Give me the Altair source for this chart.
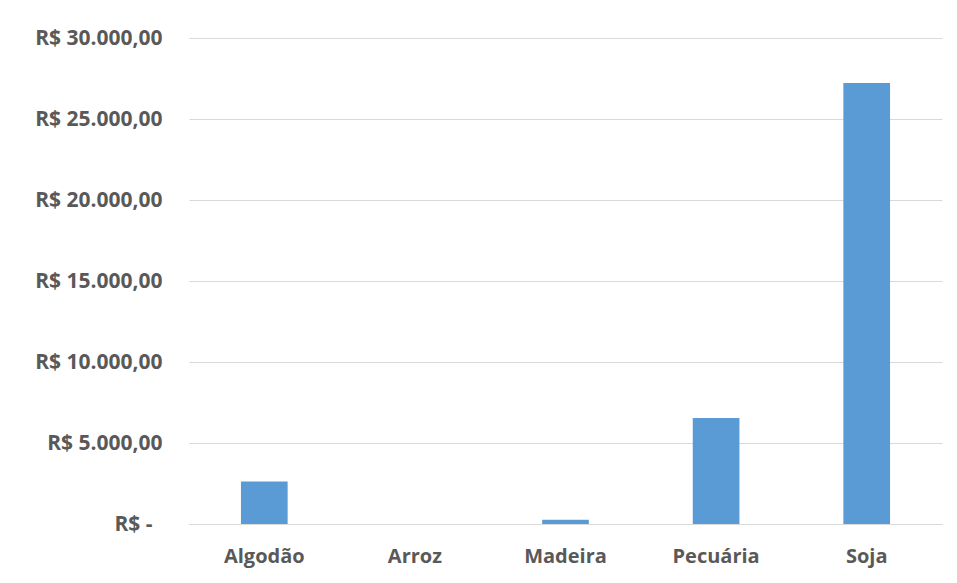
import altair as alt
import pandas as pd

categories = ["Algodão", "Arroz", "Madeira", "Pecuária", "Soja"]
values = [2630, 0, 265, 6545, 27220]
y_ticks = [0, 5000, 10000, 15000, 20000, 25000, 30000]

df = pd.DataFrame({"cat": categories, "val": values})

label_expr = (
    "datum.value == 0 ? 'R$ -' : 'R$ ' + "
    "replace(replace(replace(format(datum.value, ',.2f'), regexp(',', 'g'), '#'), "
    "regexp('\\\\.', 'g'), ','), regexp('#', 'g'), '.')"
)

chart = alt.Chart(df).mark_bar(color="#5B9BD5").encode(
    x=alt.X("cat:N", sort=categories, title=None,
            scale=alt.Scale(paddingInner=0.69, paddingOuter=0.345),
            axis=alt.Axis(labelAngle=0, labelFont="Open Sans", labelFontWeight="bold",
                          labelFontSize=20, labelColor="#595959", labelPadding=22,
                          ticks=False, domain=True, domainColor="#D9D9D9", grid=False)),
    y=alt.Y("val:Q", title=None,
            scale=alt.Scale(domain=[0, 30000], nice=False),
            axis=alt.Axis(values=y_ticks, labelExpr=label_expr, labelFont="Open Sans",
                          labelFontWeight="bold", labelFontSize=21, labelColor="#595959",
                          labelPadding={"condition": {"test": "datum.value == 0", "value": 37},
                                        "value": 27},
                          ticks=False, domain=False,
                          grid=True, gridColor="#D9D9D9", gridWidth=1)),
).properties(
    width=753, height=486,
    autosize=alt.AutoSizeParams(type="none"),
    padding={"left": 181, "top": 30, "right": 7, "bottom": 51},
    background="white",
).configure_view(stroke=None)

chart.save("out.html", embed_options={"renderer": "svg", "actions": False})
